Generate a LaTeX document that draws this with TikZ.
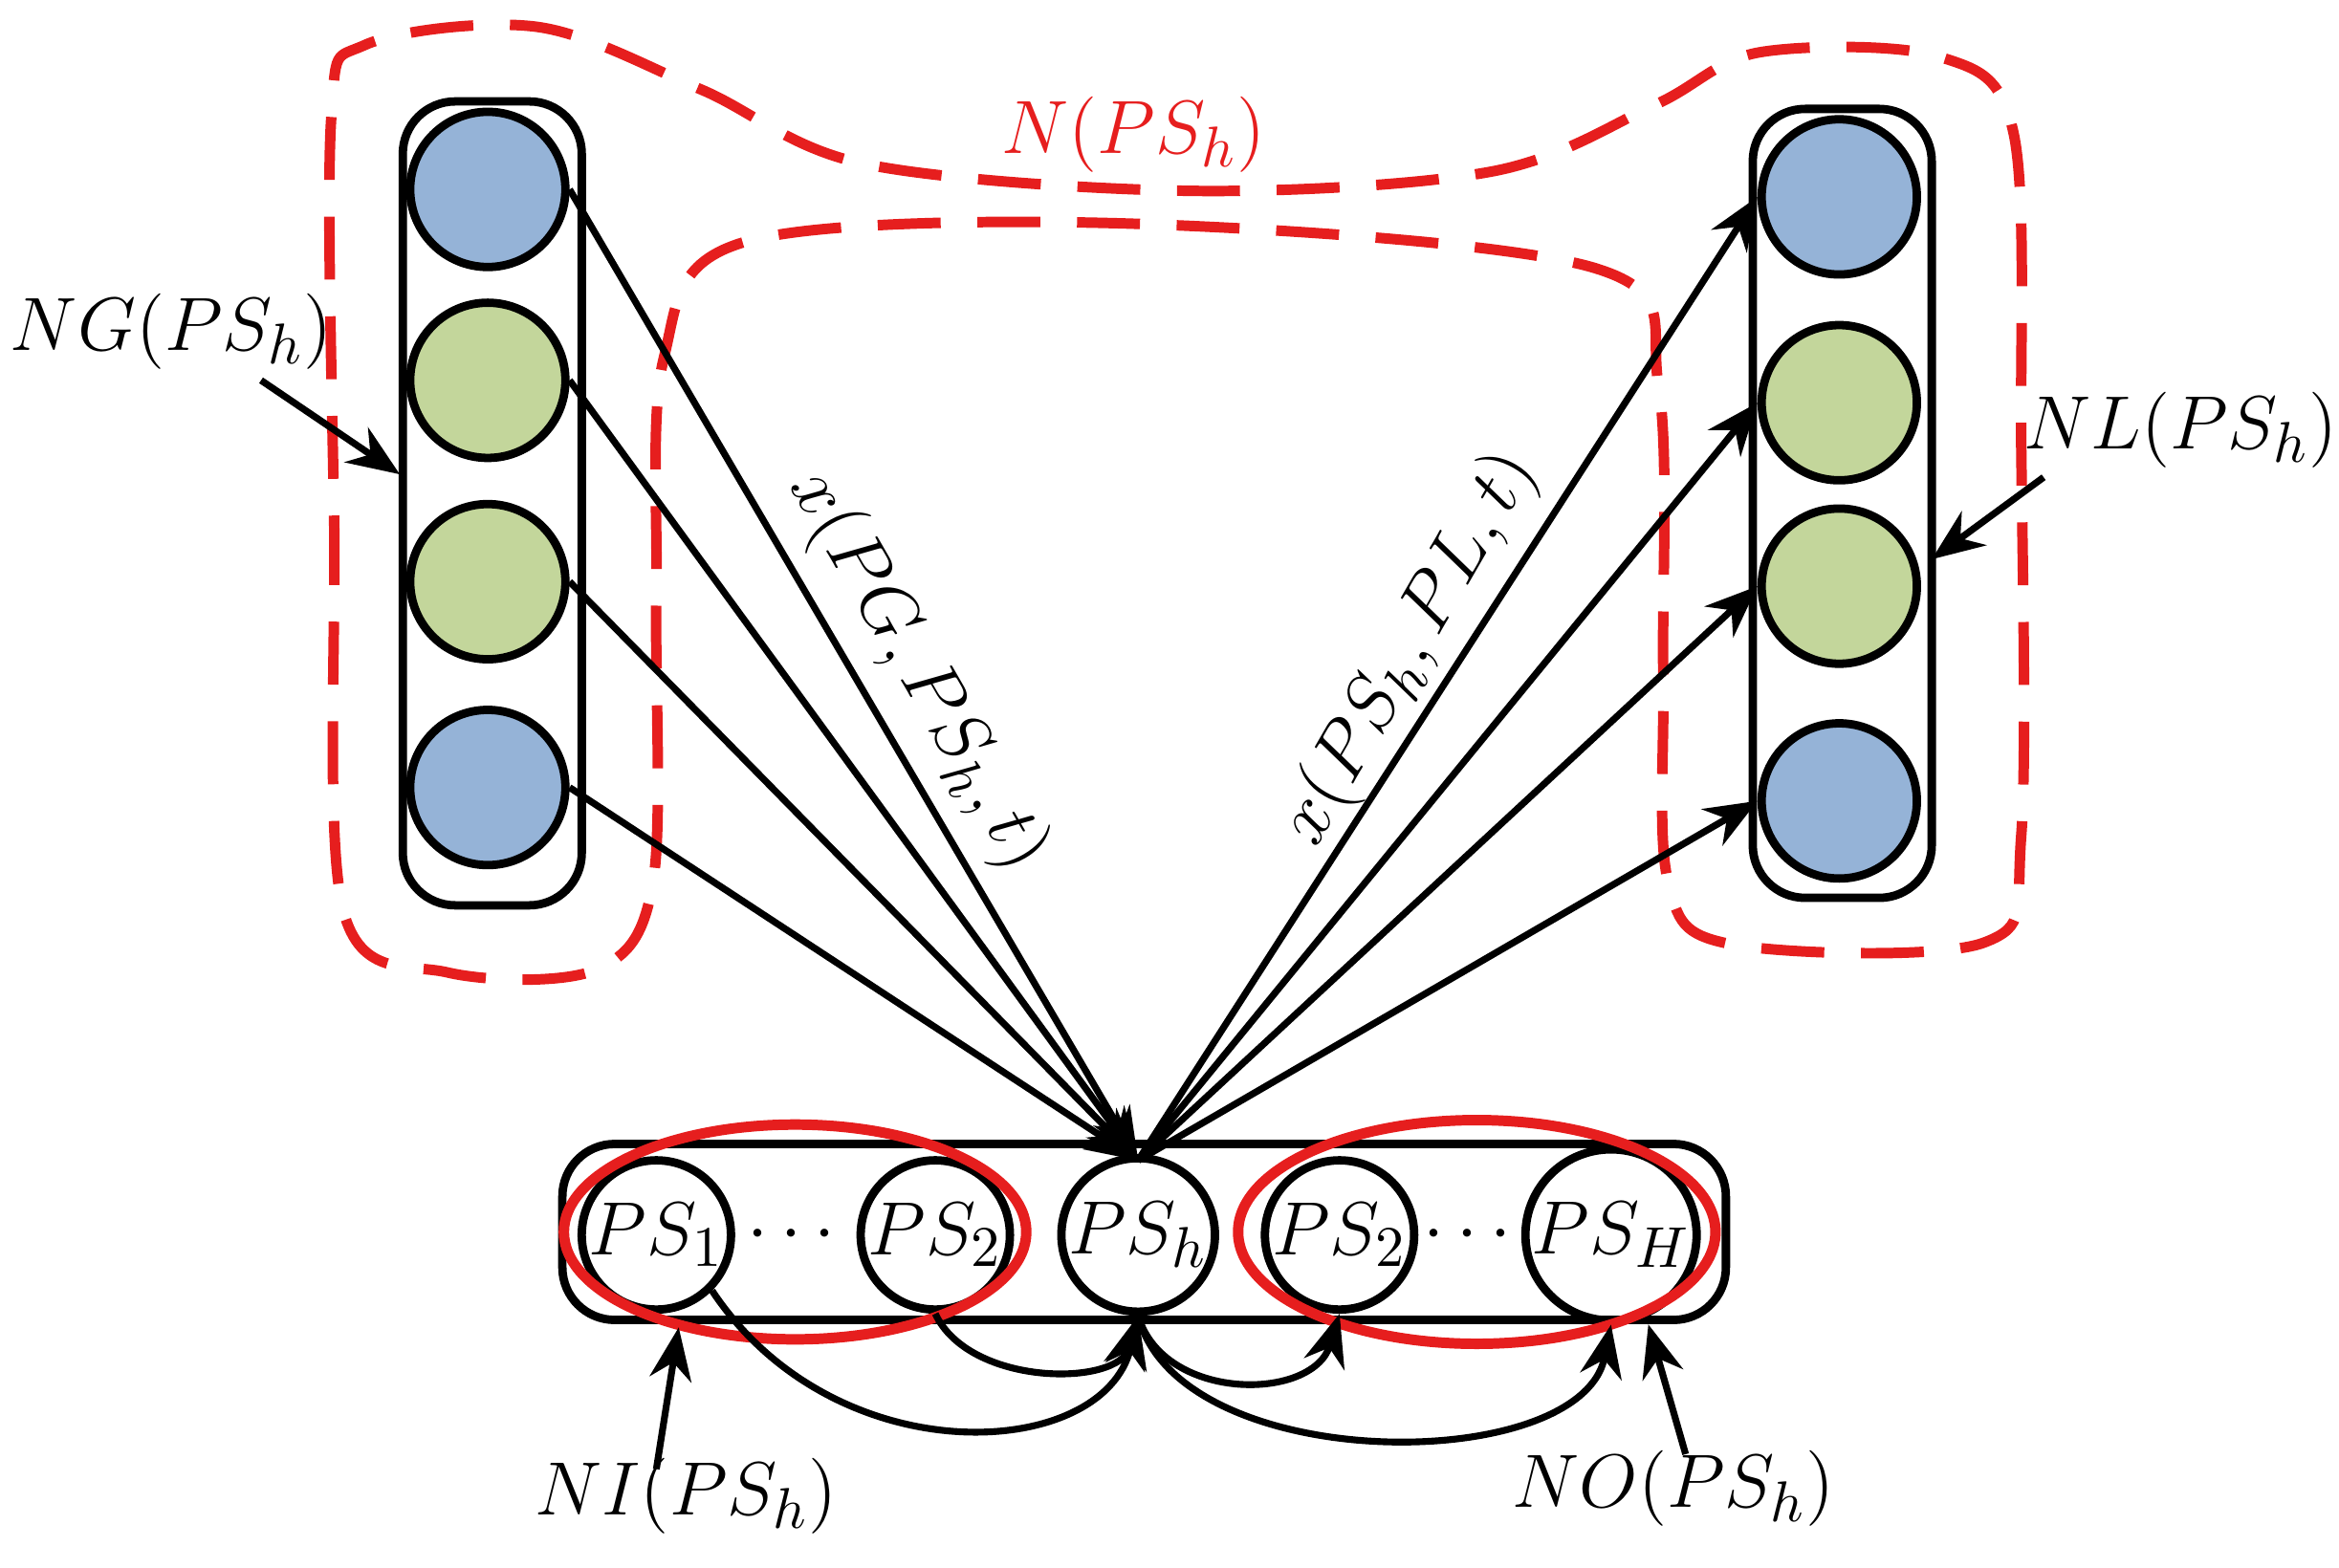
\documentclass[tikz,border=0pt]{standalone}
\usepackage{amsmath}
\usetikzlibrary{arrows.meta}
\begin{document}
\begin{tikzpicture}[x=0.01cm,y=-0.01cm,
  box/.style={draw,line width=1.6pt,rounded corners=10pt},
  bc/.style={circle,draw,line width=1.6pt,minimum size=1.04cm,inner sep=0pt,fill=blue0},
  gc/.style={circle,draw,line width=1.6pt,minimum size=1.04cm,inner sep=0pt,fill=green0},
  pc/.style={circle,draw,line width=1.6pt,minimum size=1.0cm,inner sep=0pt,font=\fontsize{15}{18}\selectfont},
  arr/.style={line width=1.3pt,-{Stealth[length=10pt,width=8pt]}},
  lab/.style={font=\fontsize{15}{18}\selectfont}]
\definecolor{blue0}{RGB}{149,179,215}
\definecolor{green0}{RGB}{195,214,155}
\definecolor{red0}{RGB}{230,30,30}
\useasboundingbox (0,0) rectangle (1568,1051);
% red dashed region
\draw[red0,line width=2pt,dash pattern=on 12pt off 7pt]
  plot[smooth cycle,tension=0.55] coordinates {
  (222,80) (224,350) (230,610) (300,652) (400,650) (438,590) (440,400) (445,240) (500,162)
  (760,150) (1070,180) (1112,260) (1115,450) (1118,590) (1160,633) (1330,632)
  (1355,560) (1355,300) (1350,90) (1300,38) (1180,35) (1110,70) (1000,115)
  (800,128) (580,110) (470,60) (360,18) (245,30)};
\node[lab,red0] (N) at (760,90) {$N(PS_h)$};
% left column
\draw[box] (270,68) rectangle (390,607);
\node[bc] (l1) at (327,127) {};
\node[gc] (l2) at (327,255) {};
\node[gc] (l3) at (327,390) {};
\node[bc] (l4) at (327,528) {};
% right column
\draw[box] (1175,73) rectangle (1295,602);
\node[bc] (r1) at (1233,132) {};
\node[gc] (r2) at (1233,270) {};
\node[gc] (r3) at (1233,393) {};
\node[bc] (r4) at (1233,537) {};
% bottom
\draw[box] (377,767) rectangle (1157,885);
\node[pc] (p1) at (440,828) {$PS_1$};
\node[lab] (d1) at (535,828) {$\cdots$};
\node[pc] (p2) at (627,828) {$PS_2$};
\node[pc] (ph) at (763,828) {$PS_h$};
\node[pc] (p3) at (898,828) {$PS_2$};
\node[lab] (d2) at (988,828) {$\cdots$};
\node[pc] (pH) at (1080,828) {$PS_H$};
\draw[red0,line width=2pt] (533,826) ellipse [x radius=155,y radius=72];
\draw[red0,line width=2pt] (990,826) ellipse [x radius=160,y radius=75];
\coordinate (top) at (763,778);
% arrows up
\foreach \n in {l1,l2,l3,l4} \draw[arr] (\n.east) -- (top);
\foreach \n in {r1,r2,r3,r4} \draw[arr] (top) -- (\n.west);
% labels rotated
\node[lab,rotate=-60] (xa) at (615,450) {$x(PG,PS_h,t)$};
\node[lab,rotate=60] (xb) at (945,435) {$x(PS_h,PL,t)$};
% side labels
\node[lab] (NG) at (115,222) {$NG(PS_h)$};
\draw[arr] (175,255) -- (268,318);
\node[lab] (NL) at (1462,288) {$NL(PS_h)$};
\draw[arr] (1370,320) -- (1295,375);
\node[lab] (NI) at (460,1003) {$NI(PS_h)$};
\draw[arr] (440,985) -- (455,890);
\node[lab] (NO) at (1122,998) {$NO(PS_h)$};
\draw[arr] (1130,975) -- (1105,888);
% curved arrows
\draw[arr] (p1.south east) .. controls (560,990) and (740,980) .. (ph.south);
\draw[arr] (p2.south) .. controls (650,930) and (750,930) .. (ph.south);
\draw[arr] (ph.south) .. controls (780,940) and (880,940) .. (p3.south);
\draw[arr] (ph.south) .. controls (790,990) and (1060,990) .. (pH.south);
\end{tikzpicture}
\end{document}
